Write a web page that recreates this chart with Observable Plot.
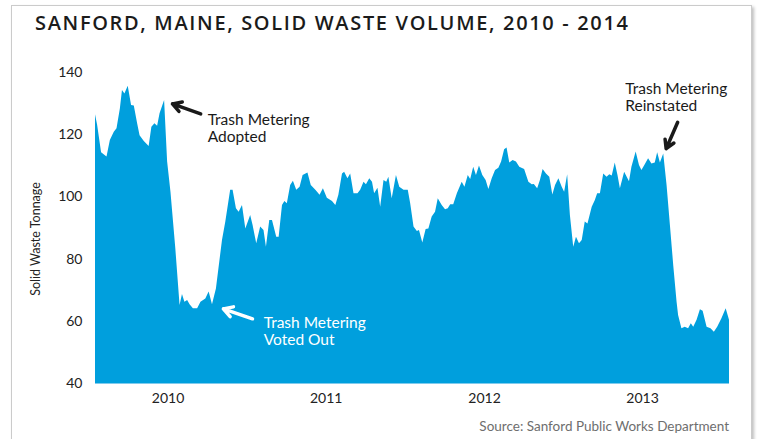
<!DOCTYPE html>
<html>
<head>
<meta charset="utf-8">
<script src="https://cdn.jsdelivr.net/npm/d3@7"></script>
<script src="https://cdn.jsdelivr.net/npm/@observablehq/plot@0.6"></script>
<style>
  html, body { margin: 0; padding: 0; background: #fff; }
  body { width: 763px; height: 439px; overflow: hidden; position: relative; font-family: Lato, "Open Sans", sans-serif; }
  #frame { position: absolute; left: 11px; top: 5px; width: 739px; height: 460px; border: 1px solid #cbcbcb; box-shadow: 2px 2px 3px rgba(0,0,0,0.25); background: #fff; }
  #title { position: absolute; left: 35px; top: 13px; font: 600 20px "Open Sans", sans-serif; color: #1b1b1b; white-space: nowrap; line-height: 1; }
  #chart { position: absolute; left: 0; top: 50px; }
  #source { position: absolute; right: 34px; top: 418px; font: 13.5px Lato, sans-serif; color: #6e6e6e; white-space: nowrap; }
</style>
</head>
<body>
<div id="frame"></div>
<div id="title">SANFORD, MAINE, SOLID WASTE VOLUME, 2010 - 2014</div>
<div id="chart"></div>
<div id="source">Source: Sanford Public Works Department</div>
<script>
// weeks since 1 Jan 2010
const weeks = [1.9,2.6,3.9,5.7,6.8,8.1,9.0,10.1,10.8,11.6,
  12.7,13.8,14.7,15.8,16.6,18.0,19.6,20.5,21.5,22.4,
  23.2,24.7,25.7,26.8,28.4,29.8,30.6,31.4,32.3,33.1,
  34.2,35.6,36.7,38.3,39.4,40.5,41.8,42.9,43.8,44.9,
  46.5,47.3,48.4,49.3,50.4,51.5,53.1,53.9,55.1,56.4,
  57.5,58.3,59.4,60.3,61.7,62.5,63.6,64.4,65.2,66.3,
  67.2,68.3,69.4,70.4,72.0,73.1,74.6,76.0,77.1,78.4,
  80.1,81.2,82.2,83.4,84.1,85.2,86.1,87.2,88.5,89.4,
  90.5,91.3,92.4,93.3,94.0,95.1,96.0,97.1,98.0,98.7,
  99.8,101.2,102.3,103.7,105.1,105.9,107.0,108.1,108.8,109.9,
  111.0,111.9,113.0,114.1,115.0,116.3,117.4,118.3,119.1,120.1,
  121.3,122.9,123.8,124.9,125.7,126.7,127.6,128.6,129.7,130.8,
  131.7,132.8,133.9,135.0,135.9,136.9,137.7,138.6,139.7,140.8,
  141.9,143.5,144.9,146.0,146.7,147.8,148.7,149.6,150.7,151.8,
  152.8,153.7,154.8,155.9,156.7,157.7,158.6,159.7,160.6,161.6,
  162.5,163.5,164.4,165.8,166.8,167.6,168.5,169.6,170.7,171.6,
  172.4,173.4,174.3,175.1,176.5,178.1,178.9,180.3,181.4,182.2,
  183.3,184.4,185.5,186.6,187.4,188.3,189.4,190.5,191.6,192.7,
  193.8,194.3,195.4,196.5,197.6,198.5,199.3,200.4,201.5,202.4,
  203.7,205.0,206.1,207.2,208.6,210.0,211.1];
// solid waste tonnage
const tons = [126.4,123,114.2,112.8,118.1,120.8,121.9,128.3,134.2,133.1,
  135.6,129.4,129.2,123.5,119.7,117.8,116.2,122.4,123.5,122.7,
  126.7,131.0,111.2,101.5,83.3,65.1,68.6,66.1,66.7,65.3,
  64.0,64.0,66.1,67.2,69.4,65.3,70.4,79,86,91.9,
  102.1,102.1,96.2,95.1,97.2,89.7,94,90.8,84.9,90.3,
  89.2,83.8,92.4,92.4,87,87,97.2,98.5,97.8,103.7,
  105,102.1,103.1,106.9,107.7,103.7,102.1,100.5,102.6,99.6,
  98.5,97.2,100.5,107.4,107.9,105.8,107.4,101,101,102.1,
  104.7,103.9,105.8,104.7,101,102.8,96.7,105.3,104.7,106.3,
  99.4,106.9,103.1,102.1,102.1,97.8,90.3,88.9,89.2,85.2,
  89.5,89.7,93.5,95.1,99.4,97.2,95.9,96.2,97.5,97.5,
  101,104.7,103.1,106.9,105.6,109.5,106.9,109.9,106.9,105.3,
  102.4,105.8,108.5,109.2,111.2,115.2,115.7,110.9,111.7,111.2,
  109.5,108.8,104.7,103.9,104,102.6,105.3,108.8,107.4,106.3,
  100.6,103.7,105.8,103.1,101.5,107.1,94,83.8,87,84.9,
  86,91.9,91.3,96.7,98.8,101,101,107.4,106.3,107.1,
  106.7,110.9,106.9,102.6,107.9,104.9,109.5,114.4,110.1,108.5,
  110.3,112.3,110.6,110.9,114.2,110.9,113.8,103.7,90.8,77.9,
  66.1,61.9,57.6,58.1,57.6,59.2,58.1,60.3,63.7,63.2,
  58.1,57.6,56.5,58.1,60.8,64,60.3];
const yearLabels = [2010, 2011, 2012, 2013];
const yTicks = [40, 60, 80, 100, 120, 140];

// annotations (in data space: week, tons)
const noteText = ["Trash Metering\nAdopted", "Trash Metering\nVoted Out", "Trash Metering\nReinstated"];
const noteWeek = [38.9, 57.4, 176.7];
const noteTons = [127.2, 61.9, 137.2];
const noteColor = ["#1a1a1a", "#ffffff", "#1a1a1a"];
const arrowFromWeek = [36.6, 53.7, 194.0];
const arrowFromTons = [126.7, 60.8, 124.0];
const arrowToWeek = [27.3, 44.1, 190.2];
const arrowToTons = [129.9, 64.0, 115.5];

const start = Date.UTC(2010, 0, 1);
const wk = w => new Date(start + w * 7 * 864e5);
const data = weeks.map((w, i) => ({date: wk(w), tons: tons[i]}));
const notes = noteText.map((t, i) => ({text: t, date: wk(noteWeek[i]), tons: noteTons[i], color: noteColor[i]}));
const arrows = noteText.map((t, i) => ({
  d1: wk(arrowFromWeek[i]), t1: arrowFromTons[i], d2: wk(arrowToWeek[i]), t2: arrowToTons[i], color: noteColor[i]
}));
const tickDates = yearLabels.map(y => new Date(Date.UTC(y, 6, 1)));

const svg = Plot.plot({
  width: 763,
  height: 365,
  marginLeft: 95,
  marginRight: 34,
  marginTop: 22,
  marginBottom: 32,
  style: {fontFamily: "Lato, sans-serif", fontSize: "14px", color: "#222", background: "transparent"},
  x: {type: "utc", domain: [data[0].date, data[data.length - 1].date]},
  y: {domain: [40, 140]},
  marks: [
    Plot.areaY(data, {x: "date", y1: 40, y2: "tons", fill: "#009fdd", curve: "linear"}),
    Plot.ruleY([40], {stroke: "#7fcbed", strokeWidth: 1}),
    Plot.axisX({ticks: tickDates, tickFormat: d => String(d.getUTCFullYear()), tickSize: 0, tickPadding: 10, label: null, fontSize: 14}),
    Plot.axisY({ticks: yTicks, tickSize: 0, tickPadding: 13, label: null, fontSize: 14}),
    Plot.text(["Solid Waste Tonnage"], {frameAnchor: "left", textAnchor: "middle", dx: -60, dy: 11, rotate: -90, fontSize: 12.5, fill: "#222"}),
    Plot.arrow(arrows, {x1: "d1", y1: "t1", x2: "d2", y2: "t2", stroke: "color", strokeWidth: 3.5, headLength: 12, bend: 0}),
    Plot.text(notes, {x: "date", y: "tons", text: "text", fill: "color", textAnchor: "start", lineAnchor: "top", fontSize: 15.5, lineHeight: 1.13})
  ]
});
document.getElementById("chart").append(svg);

// fit the title to the width it has in the reference
const t = document.getElementById("title");
const w = t.getBoundingClientRect().width;
const n = t.textContent.length;
t.style.letterSpacing = ((593 - w) / (n - 1)) + "px";
</script>
</body>
</html>
